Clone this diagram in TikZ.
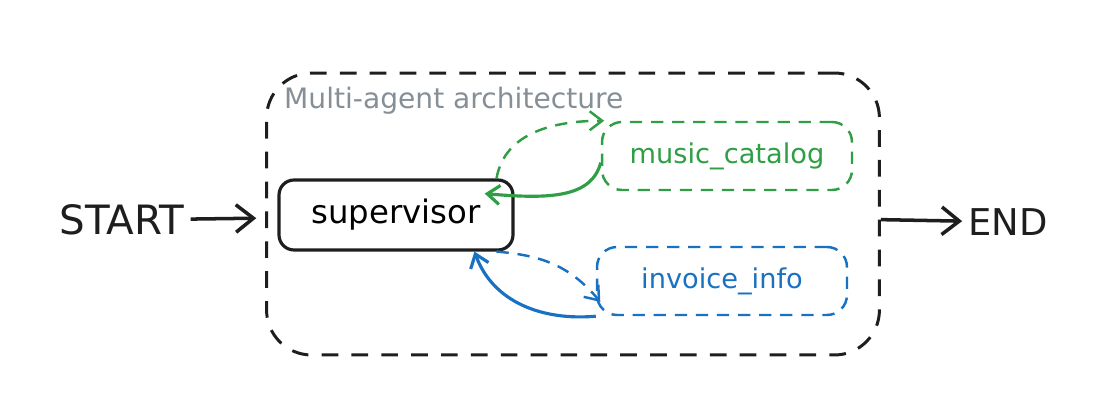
\documentclass[tikz,border=0pt]{standalone}
\usepackage{fontspec}
\setmainfont{DejaVu Sans}
\usetikzlibrary{positioning,arrows.meta}
\definecolor{ink}{HTML}{1E1E1E}
\definecolor{musicgreen}{HTML}{2F9E44}
\definecolor{invoiceblue}{HTML}{1971C2}
\definecolor{titlegray}{HTML}{868E96}
\tikzset{
>={Straight Barb[length=3.5mm,width=5.5mm]},
terminal/.style={font=\fontsize{21}{25}\selectfont, text=ink},
frame/.style={rectangle, rounded corners=0.9cm, draw=ink, line width=1.7pt,
              dash pattern=on 9.5pt off 7.5pt, minimum width=12.26cm, minimum height=5.64cm},
agent/.style={rectangle, rounded corners=0.3cm, draw=ink, line width=1.8pt,
              minimum width=4.68cm, minimum height=1.4cm, font=\fontsize{18.4}{22}\selectfont},
worker/.style={rectangle, rounded corners=0.4cm, line width=1.4pt, dash pattern=on 7pt off 5pt,
               minimum width=5cm, minimum height=1.36cm, font=\fontsize{15.5}{18}\selectfont},
handoff/.style={line width=1.4pt, dash pattern=on 7pt off 5pt, -{Straight Barb[length=2.5mm,width=3.8mm]}},
reply/.style={line width=1.8pt, -{Straight Barb[length=2.5mm,width=3.8mm]}},
}
\begin{document}
\begin{tikzpicture}[x=0.02cm, y=-0.02cm]
    \useasboundingbox (0,0) rectangle (1100,418);

    \node[frame] (system) at(573, 214)  {};
    \node[text=titlegray, font=\fontsize{16}{19}\selectfont, anchor=west] (title) at(278, 101)  {Multi-agent architecture};

    \node[agent] (supervisor) at(396, 215)  {supervisor};
    \node[worker, draw=musicgreen, text=musicgreen] (music) at(727, 156)  {music\_catalog};
    \node[worker, draw=invoiceblue, text=invoiceblue] (invoice) at(722, 281)  {invoice\_info};

    \node[terminal, font=\fontsize{23}{27}\selectfont] (start) at(122, 220)  {START};
    \node[terminal] (end) at(1008, 222)  {END};

    \draw[->, line width=2pt, ink, shorten >=5pt] (start)  to (system) ;
    \draw[->, line width=2pt, ink] (system)  to (end) ;

    \draw[handoff, musicgreen] (supervisor.20)  to [out=80, in=180] (music.164) ;
    \draw[reply, musicgreen, shorten >=-0.6cm] (music.183)  to [out=-105, in=-5] (supervisor.9) ;

    \draw[handoff, invoiceblue, shorten >=-4pt] (supervisor.-20)  to [out=-5, in=130] (invoice.187) ;
    \draw[reply, invoiceblue] (invoice.south west)  to [out=185, in=-70] (supervisor.-25) ;
\end{tikzpicture}
\end{document}
